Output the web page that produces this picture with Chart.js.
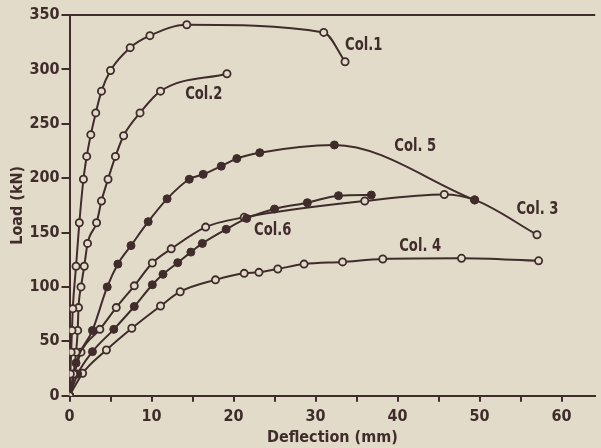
<!DOCTYPE html>
<html>
<head>
<meta charset="utf-8">
<script src="https://cdn.jsdelivr.net/npm/chart.js@4"></script>
<style>
  html, body { margin: 0; padding: 0; background: #e2dbc9; }
  #wrap { width: 601px; height: 448px; }
</style>
</head>
<body>
<div id="wrap"><canvas id="myChart"></canvas></div>
<script>
// deflection (mm) and load (kN), one pair of arrays per column
const col1Defl = [0, 0.1, 0.2, 0.3, 0.4, 0.8, 1.2, 1.7, 2.1, 2.6, 3.2, 3.9, 5.0, 7.4, 9.8, 14.3, 31.0, 33.6];
const col1Load = [0, 20, 40, 60, 80, 119, 159, 199, 220, 240, 260, 280, 299, 320, 331, 341, 334, 307];

const col2Defl = [0, 0.5, 0.8, 1.0, 1.1, 1.4, 1.8, 2.2, 3.3, 3.9, 4.7, 5.6, 6.6, 8.6, 11.1, 19.2];
const col2Load = [0, 20, 40, 60, 81, 100, 119, 140, 159, 179, 199, 220, 239, 260, 280, 296];

const col5Defl = [0, 0.8, 2.8, 4.6, 5.9, 7.5, 9.6, 11.9, 14.6, 16.3, 18.5, 20.4, 23.2, 32.3, 49.4];
const col5Load = [0, 30, 60, 100, 121, 138, 160, 181, 199, 203.5, 211, 218, 223.4, 230.5, 180];

const col3Defl = [0, 0.6, 1.4, 3.7, 5.7, 7.9, 10.1, 12.4, 16.6, 21.3, 36.0, 45.7, 49.4, 57.0];
const col3Load = [0, 20, 40, 61, 81, 101, 122, 135, 155, 164, 179, 185, 180, 148];

const col6Defl = [0, 1.0, 2.8, 5.4, 7.9, 10.1, 11.4, 13.2, 14.8, 16.2, 19.1, 21.6, 25.0, 29.0, 32.8, 36.8];
const col6Load = [0, 20, 40.5, 61, 82, 102, 111.6, 122.3, 132, 140, 153, 163, 171.6, 177.4, 183.9, 184.5];

const col4Defl = [0, 1.6, 4.5, 7.6, 11.1, 13.5, 17.8, 21.3, 23.1, 25.4, 28.6, 33.3, 38.2, 47.8, 57.2];
const col4Load = [0, 20.6, 42, 62, 82.5, 95.6, 106.5, 112.5, 113.4, 116.5, 121, 123, 125.7, 126.3, 124];

const xTicks = [0, 10, 20, 30, 40, 50, 60];
const yTicks = [0, 50, 100, 150, 200, 250, 300, 350];

// curve labels, placed at deflection/load coordinates
const labelText = ['Col.1', 'Col.2', 'Col. 5', 'Col. 3', 'Col.6', 'Col. 4'];
const labelDefl = [33.6, 14.1, 39.6, 54.5, 22.5, 40.2];
const labelLoad = [322, 276.5, 229, 170.7, 151.7, 137];

const ink = '#3f2c2b';
const paper = '#e2dbc9';
const fontFam = '"DejaVu Sans Condensed", sans-serif';

function pairs(xs, ys) {
  return xs.map(function (x, i) { return { x: x, y: ys[i] }; });
}

function series(name, xs, ys, filled) {
  return {
    label: name,
    data: pairs(xs, ys),
    borderColor: ink,
    borderWidth: 2,
    pointRadius: filled ? 4 : 3.6,
    pointBorderWidth: filled ? 1 : 1.8,
    pointBorderColor: ink,
    pointBackgroundColor: filled ? ink : paper,
    cubicInterpolationMode: 'monotone',
    fill: false
  };
}

const paperBg = {
  id: 'paperBg',
  beforeDraw: function (chart) {
    const ctx = chart.ctx;
    ctx.save();
    ctx.fillStyle = paper;
    ctx.fillRect(0, 0, chart.width, chart.height);
    ctx.restore();
  }
};

const frameAndLabels = {
  id: 'frameAndLabels',
  afterDatasetsDraw: function (chart) {
    const ctx = chart.ctx;
    const a = chart.chartArea;
    const xs = chart.scales.x, ys = chart.scales.y;
    ctx.save();
    ctx.strokeStyle = ink;
    ctx.lineWidth = 2;
    ctx.beginPath();
    ctx.moveTo(a.left - 1, a.top);
    ctx.lineTo(a.right, a.top);
    ctx.stroke();
    ctx.fillStyle = ink;
    ctx.font = 'bold 17px ' + fontFam;
    ctx.textAlign = 'left';
    ctx.textBaseline = 'middle';
    for (let i = 0; i < labelText.length; i++) {
      const px = xs.getPixelForValue(labelDefl[i]);
      const py = ys.getPixelForValue(labelLoad[i]);
      // squeeze horizontally, the printed lettering is narrow
      ctx.save();
      ctx.translate(px, py);
      ctx.scale(0.86, 1);
      ctx.fillText(labelText[i], 0, 0);
      ctx.restore();
    }
    ctx.restore();
  }
};

const config = {
  type: 'line',
  data: {
    datasets: [
      series('Col.1', col1Defl, col1Load, false),
      series('Col.2', col2Defl, col2Load, false),
      series('Col.5', col5Defl, col5Load, true),
      series('Col.6', col6Defl, col6Load, true),
      series('Col.3', col3Defl, col3Load, false),
      series('Col.4', col4Defl, col4Load, false)
    ]
  },
  options: {
    responsive: true,
    maintainAspectRatio: false,
    animation: false,
    layout: { padding: { top: 15, right: 0, left: 0, bottom: 0 } },
    plugins: {
      legend: { display: false },
      tooltip: { enabled: false }
    },
    scales: {
      x: {
        type: 'linear',
        min: 0,
        max: 64.1,
        afterFit: function (s) { s.height = 52.3; },
        afterBuildTicks: function (s) {
          s.ticks = [];
          for (let v = 0; v <= 60; v += 5) s.ticks.push({ value: v });
        },
        ticks: {
          color: ink,
          padding: 6,
          maxRotation: 0,
          font: { family: fontFam, size: 16, weight: 'bold' },
          callback: function (v) { return xTicks.indexOf(v) >= 0 ? String(v) : ''; }
        },
        grid: { display: true, drawOnChartArea: false, color: ink, lineWidth: 2, tickLength: 6 },
        border: { display: true, color: ink, width: 2 },
        title: {
          display: true,
          text: 'Deflection (mm)',
          color: ink,
          padding: { top: 0, bottom: 1 },
          font: { family: fontFam, size: 16, weight: 'bold' }
        }
      },
      y: {
        type: 'linear',
        min: 0,
        max: 350,
        afterFit: function (s) { s.width = 69.5; },
        afterBuildTicks: function (s) {
          s.ticks = yTicks.map(function (v) { return { value: v }; });
        },
        ticks: {
          color: ink,
          padding: 2,
          font: { family: fontFam, size: 16, weight: 'bold' }
        },
        grid: { display: true, drawOnChartArea: false, color: ink, lineWidth: 2, tickLength: 8 },
        border: { display: true, color: ink, width: 2 },
        title: {
          display: true,
          text: 'Load (kN)',
          color: ink,
          padding: { top: 8, bottom: 0 },
          font: { family: fontFam, size: 16, weight: 'bold' }
        }
      }
    }
  },
  plugins: [paperBg, frameAndLabels]
};

const myChart = new Chart(document.getElementById('myChart'), config);
</script>
</body>
</html>
